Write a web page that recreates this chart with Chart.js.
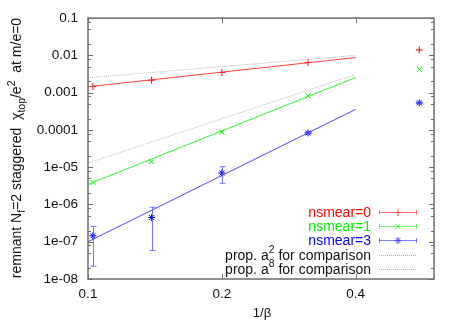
<!DOCTYPE html>
<html lang="en">
<head>
<meta charset="UTF-8">
<title>Remnant topological susceptibility</title>
<script src="https://cdn.jsdelivr.net/npm/chart.js"></script>
<style>
  body { margin: 0; background: #fff; }
  canvas { display: block; }
</style>
</head>
<body>
<canvas id="chi" width="458" height="321"></canvas>
<script>
// measured points, x = 1/beta
const betaInv = [0.1026, 0.139, 0.2, 0.3125, 0.556];
const chiSmear0 = [1.47e-3, 2.16e-3, 3.47e-3, 6.45e-3, 1.40e-2];
const chiSmear1 = [3.9e-6, 1.4e-5, 8.8e-5, 8.2e-4, 4.2e-3];
const chiSmear3 = [1.45e-7, 4.45e-7, 7.0e-6, 8.3e-5, 5.3e-4];
const chiSmear3Lo = [2.2e-8, 5.8e-8, 3.7e-6, 7.9e-5, 5.1e-4];
const chiSmear3Hi = [2.56e-7, 8.4e-7, 1.03e-5, 8.7e-5, 5.5e-4];

// fit lines and comparison lines (end points)
const fitX = [0.1, 0.4];
const fitSmear0 = [1.44e-3, 8.75e-3];
const fitSmear1 = [3.45e-6, 2.55e-3];
const fitSmear3 = [1.0e-7, 3.57e-4];
const propA2 = [2.5e-3, 1.0e-2];
const propA8 = [1.29e-5, 3.07e-3];

// axes
const yTickValues = [1e-8, 1e-7, 1e-6, 1e-5, 1e-4, 1e-3, 1e-2, 1e-1];
const yTickLabels = ['1e-08', '1e-07', '1e-06', '1e-05', '0.0001', '0.001', '0.01', '0.1'];
const xTickValues = [0.1, 0.2, 0.4];
const xTickLabels = ['0.1', '0.2', '0.4'];

const seriesNames = ['nsmear=0', 'nsmear=1', 'nsmear=3'];
const seriesColors = ['#ff0000', '#00ee00', '#0000ff'];
const lineColors = ['#ff4040', '#30f030', '#4848ff'];
const seriesStyles = ['cross', 'crossRot', 'star'];

const FONT = '"Liberation Sans", Arial, sans-serif';

const pts = (xs, ys) => xs.map((x, i) => ({ x: x, y: ys[i] }));

function lineSet(ys, color, dash) {
    return {
        data: pts(fitX, ys),
        showLine: true,
        borderColor: color,
        borderWidth: 1,
        borderDash: dash || [],
        pointRadius: 0
    };
}

function pointSet(ys, i) {
    return {
        data: pts(betaInv, ys),
        showLine: false,
        pointStyle: seriesStyles[i],
        pointRadius: 3.5,
        borderColor: seriesColors[i],
        backgroundColor: seriesColors[i],
        borderWidth: 1
    };
}

// draws text pieces with sub/superscripts, pieces = [[text, 'n'|'sub'|'sup'], ...]
function richWidth(ctx, pieces, size) {
    let w = 0;
    pieces.forEach(p => {
        ctx.font = (p[1] === 'n' ? size : size * 0.75) + 'px ' + FONT;
        w += ctx.measureText(p[0]).width;
    });
    return w;
}
function richText(ctx, pieces, x, y, size) {
    let cx = x;
    pieces.forEach(p => {
        let dy = 0;
        if (p[1] === 'sub') dy = size * 0.3;
        if (p[1] === 'sup') dy = -size * 0.45;
        ctx.font = (p[1] === 'n' ? size : size * 0.75) + 'px ' + FONT;
        ctx.fillText(p[0], cx, y + dy);
        cx += ctx.measureText(p[0]).width;
    });
}

const yTitle = [['remnant N', 'n'], ['f', 'sub'], ['=2 staggered  \u03c7', 'n'], ['top', 'sub'],
                ['/e', 'n'], ['2', 'sup'], ['  at m/e=0', 'n']];
const compLabels = [
    [['prop. a', 'n'], ['2', 'sup'], [' for comparison', 'n']],
    [['prop. a', 'n'], ['8', 'sup'], [' for comparison', 'n']]
];

const decorations = {
    id: 'decorations',
    afterDatasetsDraw(chart) {
        const { ctx, chartArea: a, scales: { x, y } } = chart;
        ctx.save();

        // error bars of nsmear=3
        ctx.strokeStyle = 'rgba(72,72,255,0.75)';
        ctx.lineWidth = 1;
        betaInv.forEach((b, i) => {
            const px = Math.round(x.getPixelForValue(b)) + 0.5;
            const lo = y.getPixelForValue(chiSmear3Lo[i]);
            const hi = y.getPixelForValue(chiSmear3Hi[i]);
            ctx.beginPath();
            ctx.moveTo(px, lo); ctx.lineTo(px, hi);
            ctx.moveTo(px - 3, lo); ctx.lineTo(px + 3, lo);
            ctx.moveTo(px - 3, hi); ctx.lineTo(px + 3, hi);
            ctx.stroke();
        });

        // frame
        ctx.strokeStyle = '#6c6c6c';
        ctx.lineWidth = 1.5;
        ctx.strokeRect(a.left, a.top, a.right - a.left, a.bottom - a.top);

        // inward ticks
        ctx.lineWidth = 1;
        ctx.beginPath();
        yTickValues.forEach((v, k) => {
            const py = Math.round(y.getPixelForValue(v)) + 0.5;
            ctx.moveTo(a.left, py); ctx.lineTo(a.left + 5, py);
            ctx.moveTo(a.right - 5, py); ctx.lineTo(a.right, py);
            if (k < yTickValues.length - 1) {
                [2, 5, 8].forEach(m => {
                    const my = Math.round(y.getPixelForValue(v * m)) + 0.5;
                    ctx.moveTo(a.left, my); ctx.lineTo(a.left + 3, my);
                    ctx.moveTo(a.right - 3, my); ctx.lineTo(a.right, my);
                });
            }
        });
        xTickValues.forEach(v => {
            const px = Math.round(x.getPixelForValue(v)) + 0.5;
            ctx.moveTo(px, a.bottom); ctx.lineTo(px, a.bottom - 5);
            ctx.moveTo(px, a.top); ctx.lineTo(px, a.top + 5);
        });
        ctx.stroke();

        // legend
        const lx = 371, sx0 = 379, sx1 = 417;
        const rows = [212, 226, 240, 255, 269];
        ctx.textBaseline = 'middle';
        seriesNames.forEach((name, i) => {
            const ry = rows[i];
            ctx.font = '14px ' + FONT;
            ctx.fillStyle = seriesColors[i];
            ctx.textAlign = 'right';
            ctx.fillText(name, lx, ry + 1);
            ctx.strokeStyle = lineColors[i];
            ctx.globalAlpha = 0.7;
            ctx.beginPath();
            ctx.moveTo(sx0, ry + 0.5); ctx.lineTo(sx1, ry + 0.5);
            ctx.moveTo(sx0 + 0.5, ry - 2); ctx.lineTo(sx0 + 0.5, ry + 3);
            ctx.moveTo(sx1 - 0.5, ry - 2); ctx.lineTo(sx1 - 0.5, ry + 3);
            ctx.stroke();
            ctx.globalAlpha = 1;
            Chart.helpers.drawPoint(ctx, {
                pointStyle: seriesStyles[i], radius: 3.5, rotation: 0, borderWidth: 1
            }, (sx0 + sx1) / 2, ry + 0.5);
        });
        ctx.textAlign = 'left';
        ctx.fillStyle = '#111';
        compLabels.forEach((pieces, j) => {
            const ry = rows[3 + j];
            const w = richWidth(ctx, pieces, 14);
            richText(ctx, pieces, lx - w, ry + 1, 14);
            ctx.strokeStyle = '#b0b0b0';
            ctx.setLineDash([1, 1]);
            ctx.beginPath();
            ctx.moveTo(sx0, ry + 0.5); ctx.lineTo(sx1, ry + 0.5);
            ctx.stroke();
            ctx.setLineDash([]);
        });

        // axis titles
        ctx.fillStyle = '#111';
        ctx.font = '13px ' + FONT;
        ctx.textAlign = 'center';
        ctx.fillText('1/\u03b2', 262, 313);

        ctx.translate(21, 148);
        ctx.rotate(-Math.PI / 2);
        ctx.textAlign = 'left';
        ctx.textBaseline = 'alphabetic';
        const tw = richWidth(ctx, yTitle, 14);
        richText(ctx, yTitle, -tw / 2, 0, 14);

        ctx.restore();
    }
};

new Chart(document.getElementById('chi'), {
    type: 'scatter',
    data: {
        datasets: [
            lineSet(propA2, '#b4b4b4', [1, 1]),
            lineSet(propA8, '#b4b4b4', [1, 1]),
            lineSet(fitSmear0, lineColors[0]),
            lineSet(fitSmear1, lineColors[1]),
            lineSet(fitSmear3, lineColors[2]),
            pointSet(chiSmear0, 0),
            pointSet(chiSmear1, 1),
            pointSet(chiSmear3, 2)
        ]
    },
    options: {
        responsive: false,
        animation: false,
        layout: { padding: { top: 17, right: 24, left: 0, bottom: 0 } },
        plugins: { legend: { display: false }, tooltip: { enabled: false } },
        scales: {
            x: {
                type: 'logarithmic',
                min: 0.1,
                max: 0.6,
                afterBuildTicks: s => { s.ticks = xTickValues.map(v => ({ value: v })); },
                afterFit: s => { s.height = 42; },
                grid: { display: false, drawTicks: false },
                border: { display: false },
                ticks: {
                    padding: 7,
                    maxRotation: 0,
                    autoSkip: false,
                    color: '#111',
                    font: { family: FONT, size: 13.5 },
                    callback: (v) => xTickLabels[xTickValues.indexOf(v)]
                }
            },
            y: {
                type: 'logarithmic',
                min: 1e-8,
                max: 0.1,
                afterBuildTicks: s => { s.ticks = yTickValues.map(v => ({ value: v })); },
                afterFit: s => { s.width = 88; },
                grid: { display: false, drawTicks: false },
                border: { display: false },
                ticks: {
                    padding: 10,
                    autoSkip: false,
                    color: '#111',
                    font: { family: FONT, size: 13.5 },
                    callback: (v) => yTickLabels[yTickValues.indexOf(v)]
                }
            }
        }
    },
    plugins: [decorations]
});
</script>
</body>
</html>
